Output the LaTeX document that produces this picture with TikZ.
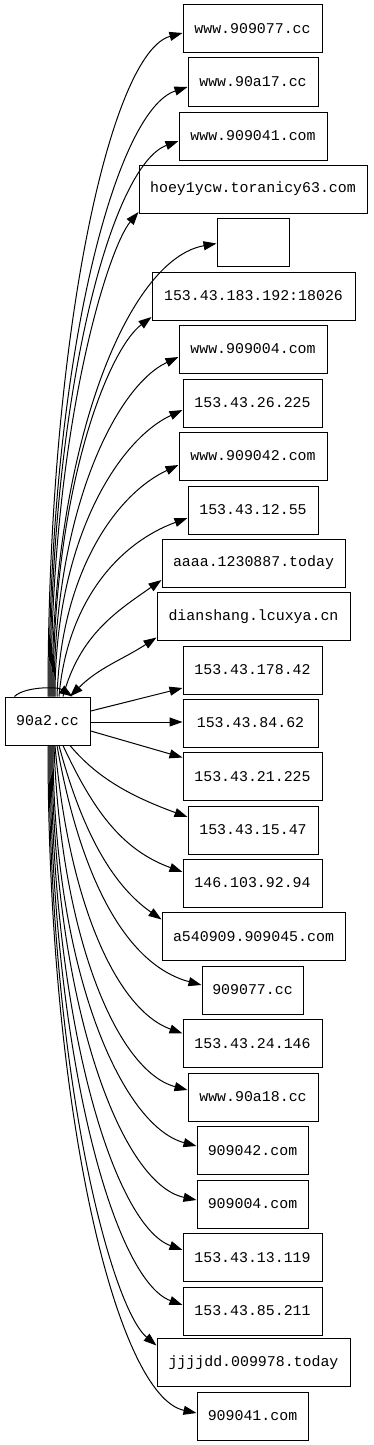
\documentclass[tikz,border=0pt]{standalone}
\usepackage{fontspec}
\setmonofont{Liberation Mono}
\usetikzlibrary{arrows.meta, calc}
\tikzset{
  host/.style={draw, line width=1pt, rectangle, inner sep=0pt, minimum height=48pt,
    font=\ttfamily\fontsize{14.9}{17}\selectfont},
  link/.style={line width=1pt, -{Triangle[length=13pt,width=9pt]}},
  twoway/.style={line width=1pt, {Triangle[length=13pt,width=9pt]}-{Triangle[length=13pt,width=9pt]}}
}
\begin{document}
\begin{tikzpicture}[x=1pt,y=1pt]
\useasboundingbox (0,0) rectangle (373,-1445);

%source
\node[host, minimum width=85pt] (src) at (47.5,-721) {90a2.cc};

%targets
\foreach \i/\cx/\cy/\w/\txt in {
 1/252.5/29/139/www.909077.cc,
 2/253/82/130/www.90a17.cc,
 3/253/136/148/www.909041.com,
 4/253/189/228/hoey1ycw.toranicy63.com,
 5/253/242.5/72/{},
 6/253.5/296/203/153.43.183.192:18026,
 7/253/349/148/www.909004.com,
 8/252.5/403/139/153.43.26.225,
 9/253/456/148/www.909042.com,
 10/253/510/130/153.43.12.55,
 11/253.5/563/183/aaaa.1230887.today,
 12/253.5/616.5/193/dianshang.lcuxya.cn,
 13/252.5/670/139/153.43.178.42,
 14/250.5/723/135/153.43.84.62,
 15/252.5/776.5/139/153.43.21.225,
 16/253/830/130/153.43.15.47,
 17/252.5/883/139/146.103.92.94,
 18/253.5/936.5/183/a540909.909045.com,
 19/252.5/990/101/909077.cc,
 20/252.5/1043.5/139/153.43.24.146,
 21/253/1097/130/www.90a18.cc,
 22/252.5/1150.5/111/909042.com,
 23/252.5/1204/111/909004.com,
 24/252.5/1257.5/139/153.43.13.119,
 25/252.5/1311/139/153.43.85.211,
 26/253.5/1362.5/193/jjjjdd.009978.today,
 27/252.5/1416/111/909041.com}
  \node[host, minimum width=\w pt] (h\i) at (\cx,-\cy) {\txt};

%edges going up
\foreach \i/\sx/\off/\oa/\ia in {
 1/48/-4/90/195, 2/49/-5/90/198, 3/50/-5/90/200, 4/51/-23/90/230,
 5/52/-1/90/190, 6/53/-21/90/217, 7/54/-8/90/205, 8/55/-7/90/205,
 9/57/-9/88/205, 10/59/-8/85/200, 11/63/-17/75/215}
  \draw[link] let \p1=(src.north), \p2=($(h\i.west)+(0,\off)$) in
    (\sx,\y1) .. controls ($(\sx,\y1)+(\oa:{0.55*abs(\y2-\y1)})$)
    and ($(\p2)+(\ia:{0.55*(\x2-\sx)})$) .. (\p2);

%edges going down
\foreach \i/\sx/\off/\oa/\ia in {
 16/70/13/-50/160, 17/63/11/-65/160, 18/59/17/-75/145, 19/57/5/-80/165,
 20/55/10/-85/160, 21/54/7/-88/165, 22/53/4.5/-90/165, 23/52/4/-90/168,
 24/51/7.5/-90/160, 25/50/6/-90/160, 26/49/17/-90/140, 27/48/3/-90/168}
  \draw[link] let \p1=(src.south), \p2=($(h\i.west)+(0,\off)$) in
    (\sx,\y1) .. controls ($(\sx,\y1)+(\oa:{0.55*abs(\y2-\y1)})$)
    and ($(\p2)+(\ia:{0.55*(\x2-\sx)})$) .. (\p2);

%straight ones
\draw[link] (src.13) -- ($(h13.west)+(0,-18)$);
\draw[link] ($(src.east)+(0,-1)$) -- ($(h14.west)+(0,1)$);
\draw[link] (src.-13) -- ($(h15.west)+(0,19)$);

%both ways and loop
\draw[twoway] ($(src.north)+(22.5,0)$) to[out=45,in=213] ($(h12.west)+(0,-21)$);
\draw[link] ($(src.north west)+(10,0)$) .. controls +(10,10) and +(-15,10) .. ($(src.north)+(25,0)$);
\end{tikzpicture}
\end{document}
